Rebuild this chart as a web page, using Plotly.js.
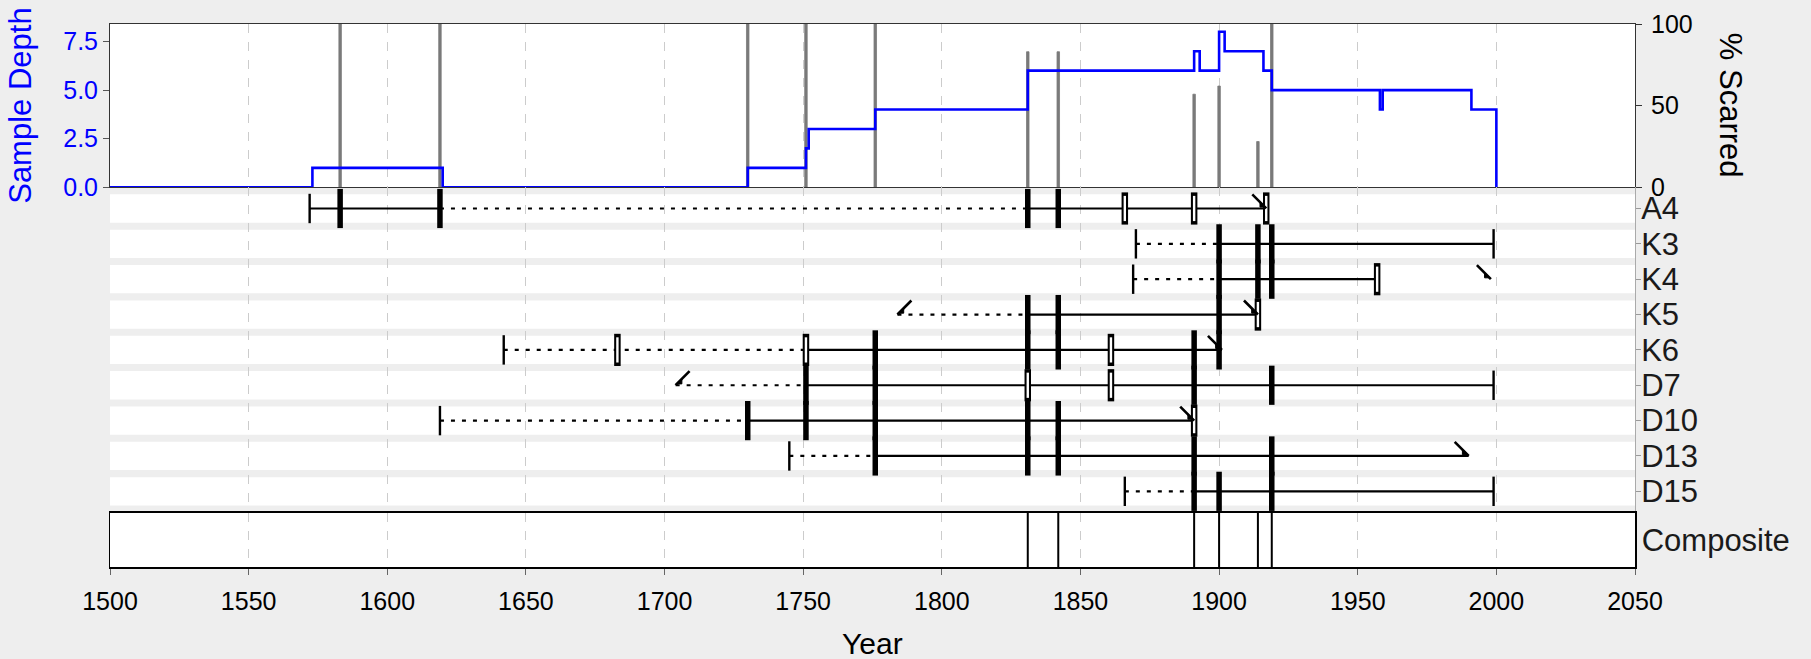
<!DOCTYPE html>
<html><head><meta charset="utf-8">
<script src="https://cdn.plot.ly/plotly-3.0.1.min.js"></script>
<style>html,body{margin:0;padding:0;background:#EEEEEE;} #chart{width:1811px;height:659px;}</style>
</head><body><div id="chart"></div>
<script>
// ---------- data ----------
const rowLabels = ["A4","K3","K4","K5","K6","D7","D10","D13","D15"];
// recording (solid) spans per series
const recordingSpans = [
  [[1572,1619],[1831,1917]],
  [[1900,1999]],
  [[1900,1957]],
  [[1831,1914]],
  [[1751,1901]],
  [[1751,1999]],
  [[1730,1891]],
  [[1776,1990]],
  [[1891,1999]]
];
// non-recording (dotted) spans per series
const nonRecordingSpans = [
  [[1619,1831]],
  [[1870,1900]],
  [[1869,1900]],
  [[1784,1831]],
  [[1642,1751]],
  [[1704,1751]],
  [[1619,1730]],
  [[1745,1776]],
  [[1866,1891]]
];
const scarYears = [
  [1583,1619,1831,1842],
  [1900,1914,1919],
  [1900,1914,1919],
  [1831,1842,1900],
  [1776,1831,1842,1891,1900],
  [1751,1776,1891,1919],
  [1730,1751,1776,1831,1842],
  [1776,1831,1842,1891,1919],
  [1891,1900,1919]
];
const injuryYears = [
  [1866,1891,1917],
  [],
  [1957],
  [1914],
  [1683,1751,1861],
  [1831,1861],
  [1891],
  [],
  []
];
const pithBarkYears = [
  [1572],
  [1870,1999],
  [1869],
  [],
  [1642],
  [1999],
  [1619],
  [1745],
  [1866,1999]
];
const innerYears = [[],[],[],[1784],[],[1704],[],[],[]];
const outerYears = [[1917],[],[1998],[1914],[1901],[],[1891],[1990],[]];

const depthYears  = [1500,1573,1620,1730,1751,1752,1776,1831,1891,1893,1900,1902,1916,1919,1958,1959,1991,2000];
const depthValues = [0,   1,   0,   1,   2,   3,   4,   6,   7,   6,   8,   7,   6,   5,   4,   5,   4,   0];

const pctYears  = [1583,1619,1730,1751,1776,1831,1842,1891,1900,1914,1919];
const pctValues = [100, 100, 100, 100, 100, 83,  83,  57,  62,  28,  100];

const compositeYears = [1831,1842,1891,1900,1914,1919];

const xTickVals = [1500,1550,1600,1650,1700,1750,1800,1850,1900,1950,2000,2050];
const depthTickVals = [0,2.5,5,7.5];
const depthTickText = ["0.0","2.5","5.0","7.5"];
const pctTickVals = [0,50,100];

// ---------- build ----------
const nRows = rowLabels.length;
const rowY = rowLabels.map((_, i) => nRows - i);

function spanTrace(spans, dash) {
  const xs = [], ys = [];
  spans.forEach((list, i) => list.forEach(([a, b]) => { xs.push(a, b, null); ys.push(rowY[i], rowY[i], null); }));
  return {type:'scatter', mode:'lines', x:xs, y:ys, xaxis:'x2', yaxis:'y2',
    line:{color:'#000000', width:2.2, dash:dash}, hoverinfo:'skip', showlegend:false};
}
function markTrace(lists, symbol, size, width, color, dx, dy) {
  const xs = [], ys = [];
  lists.forEach((list, i) => list.forEach(v => { xs.push(v + dx); ys.push(rowY[i] + dy); }));
  return {type:'scatter', mode:'markers', x:xs, y:ys, xaxis:'x2', yaxis:'y2',
    marker:{symbol:symbol, size:size, color:color, line:{color:color, width:width}},
    hoverinfo:'skip', showlegend:false, cliponaxis:false};
}

const compX = [], compY = [];
compositeYears.forEach(v => { compX.push(v, v, null); compY.push(0, 1, null); });

const traces = [
  {type:'bar', x:pctYears, y:pctValues, xaxis:'x', yaxis:'y', width:0.9,
   marker:{color:'#7A7A7A', line:{width:0.8, color:'#7A7A7A'}}, hoverinfo:'skip', showlegend:false},
  {type:'scatter', mode:'lines', x:depthYears, y:depthValues, xaxis:'x', yaxis:'y4',
   line:{color:'#0000FF', width:2.6, shape:'hv'}, hoverinfo:'skip', showlegend:false},
  spanTrace(nonRecordingSpans, '4px,7px'),
  spanTrace(recordingSpans, 'solid'),
  markTrace(pithBarkYears, 'line-ns', 21, 2.4, '#000000', 0, 0),
  markTrace(scarYears, 'line-ns', 28, 5.5, '#000000', 0, 0),
  markTrace(injuryYears, 'line-ns', 23, 6.5, '#000000', 0, 0),
  markTrace(injuryYears, 'line-ns', 18, 2.4, '#FFFFFF', 0, 0),
  markTrace(innerYears, 'line-ne', 14, 2.6, '#000000', 2.5, 0.2),
  markTrace(innerYears, 'triangle-se', 6, 1, '#000000', 1.6, 0.09),
  markTrace(outerYears, 'line-nw', 14, 2.6, '#000000', -2.5, 0.2),
  markTrace(outerYears, 'triangle-sw', 6, 1, '#000000', -1.6, 0.09),
  {type:'scatter', mode:'lines', x:compX, y:compY, xaxis:'x3', yaxis:'y3',
   line:{color:'#000000', width:2}, hoverinfo:'skip', showlegend:false}
];

const gridX = {showgrid:true, gridcolor:'#CCCCCC', griddash:'dash', gridwidth:1, tickvals:xTickVals, zeroline:false};

const shapes = [
  {type:'rect', xref:'x2 domain', yref:'y2 domain', x0:0, x1:1, y0:0, y1:1,
   fillcolor:'#EEEEEE', line:{width:0}, layer:'below'}
];
rowY.forEach(r => shapes.push({type:'rect', xref:'x2 domain', yref:'y2', x0:0, x1:1, y0:r-0.4, y1:r+0.4,
  fillcolor:'#FFFFFF', line:{width:0}, layer:'below'}));

const W = 1811, H = 659, L = 110, R = 176, T = 24, B = 92;
const pw = W - L - R, ph = H - T - B;
const px = v => (v - L) / pw;
const py = v => (H - B - v) / ph;

const layout = {
  width:W, height:H,
  paper_bgcolor:'#EEEEEE', plot_bgcolor:'#FFFFFF',
  margin:{l:L, r:R, t:T, b:B, pad:0},
  font:{family:'Liberation Sans, Arial, sans-serif', color:'#000000'},
  showlegend:false, bargap:0,
  xaxis:Object.assign({domain:[0,1], anchor:'y', range:[1500,2050], showticklabels:false, ticks:'',
    showline:true, mirror:true, linecolor:'#333333', linewidth:1}, gridX),
  yaxis:{domain:[0.6993,1], anchor:'x', side:'right', range:[0,100], tickvals:pctTickVals,
    ticks:'outside', ticklen:6, tickcolor:'#333333', tickfont:{size:25, color:'#000000'},
    ticklabelstandoff:4,
    showgrid:false, zeroline:false, showline:true, mirror:true, linecolor:'#333333', linewidth:1},
  yaxis4:{overlaying:'y', side:'left', anchor:'x', range:[0,8.4], tickvals:depthTickVals, ticktext:depthTickText,
    ticks:'outside', ticklen:6, tickcolor:'#555555', tickfont:{size:25, color:'#0000FF'},
    showgrid:false, zeroline:false, showline:false},
  xaxis2:Object.assign({domain:[0,1], anchor:'y2', range:[1500,2050], showticklabels:false, ticks:'', showline:false}, gridX),
  yaxis2:{domain:[0.1003,0.6993], anchor:'x2', side:'right', range:[0.4,9.6], tickvals:rowY, ticktext:rowLabels,
    ticks:'outside', ticklen:5, tickcolor:'#999999', tickfont:{size:31, color:'#1A1A1A'}, ticklabelstandoff:-6,
    showgrid:false, zeroline:false, showline:true, linecolor:'#AAAAAA', linewidth:1},
  xaxis3:Object.assign({domain:[0,1], anchor:'y3', range:[1500,2050], ticks:'outside', ticklen:6, tickcolor:'#666666',
    tickfont:{size:25, color:'#000000'}, ticklabelstandoff:5,
    showline:true, mirror:true, linecolor:'#000000', linewidth:1.5}, gridX),
  yaxis3:{domain:[0,0.1003], anchor:'x3', side:'right', range:[0,1], tickvals:[0.5], ticktext:['Composite'],
    ticks:'', tickfont:{size:31, color:'#1A1A1A'}, ticklabelstandoff:-1,
    showgrid:false, zeroline:false, showline:true, mirror:true, linecolor:'#000000', linewidth:1.5},
  shapes:shapes,
  annotations:[
    {text:'Sample Depth', xref:'paper', yref:'paper', x:px(21), y:py(105.8), xanchor:'center', yanchor:'middle',
     textangle:-90, showarrow:false, font:{size:31, color:'#0000FF'}},
    {text:'% Scarred', xref:'paper', yref:'paper', x:px(1730), y:py(105.8), xanchor:'center', yanchor:'middle',
     textangle:90, showarrow:false, font:{size:31, color:'#000000'}},
    {text:'Year', xref:'paper', yref:'paper', x:px(872.5), y:py(643), xanchor:'center', yanchor:'middle',
     showarrow:false, font:{size:30, color:'#000000'}}
  ]
};

Plotly.newPlot('chart', traces, layout, {displayModeBar:false, staticPlot:true});
</script>
</body></html>
